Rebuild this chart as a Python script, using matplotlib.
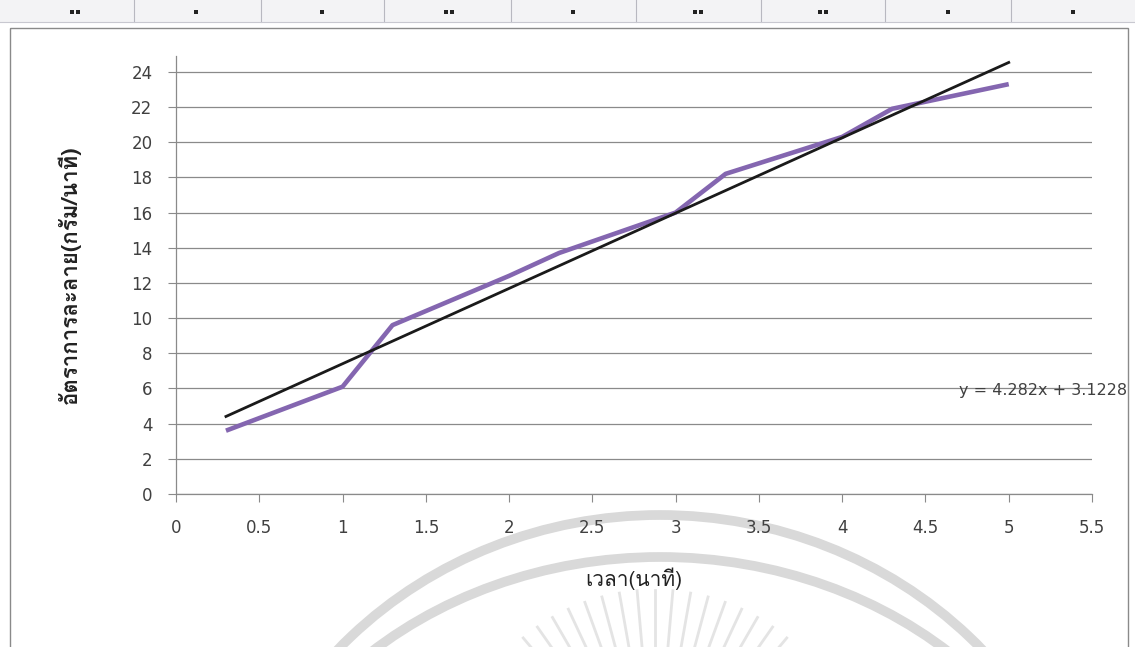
import numpy as np
import matplotlib.pyplot as plt
from matplotlib import font_manager
from matplotlib.ft2font import FT2Font
from matplotlib.patches import Rectangle, Arc


def find_thai_font():
    # pick any installed font that has Thai glyphs
    for f in font_manager.fontManager.ttflist:
        try:
            if 0x0E2D in FT2Font(f.fname).get_charmap():
                return f.name
        except Exception:
            pass
    return None


# Data
time_min = [0.3, 1.0, 1.3, 2.0, 2.3, 3.0, 3.3, 4.0, 4.3, 5.0]
rate = [3.6, 6.1, 9.6, 12.4, 13.7, 16.0, 18.2, 20.3, 21.9, 23.3]
trend_slope = 4.282
trend_intercept = 3.1228
x_ticks = [0, 0.5, 1, 1.5, 2, 2.5, 3, 3.5, 4, 4.5, 5, 5.5]
y_ticks = list(range(0, 26, 2))

thai = find_thai_font()
thai_family = [thai, 'DejaVu Sans'] if thai else ['DejaVu Sans']
num_family = ['DejaVu Sans']

W, H = 1135, 647
fig = plt.figure(figsize=(W / 100, H / 100), dpi=100)
fig.patch.set_facecolor('white')

# background layer in pixel coordinates: sheet strip, border, faint watermark
bg = fig.add_axes([0, 0, 1, 1], zorder=0)
bg.set_xlim(0, W)
bg.set_ylim(H, 0)
bg.axis('off')
bg.add_patch(Rectangle((0, 0), W, 22, facecolor='#f3f3f5', edgecolor='none'))
for px in [134, 261, 384, 511, 636, 761, 885, 1011]:
    bg.plot([px, px], [0, 22], color='#b8b8c0', lw=0.8)
bg.plot([0, W], [22, 22], color='#c8c8d0', lw=0.8)
for px in [72, 78, 196, 322, 446, 452, 573, 695, 701, 820, 826, 948, 1073]:
    bg.add_patch(Rectangle((px - 2, 10), 4, 4, facecolor='#222222', edgecolor='none'))
bg.add_patch(Rectangle((10, 28), 1118, 640, facecolor='none', edgecolor='#8a8a8a', lw=1.0))
# y axis is flipped here, so the upper half of the ellipse is theta 180..360
bg.add_patch(Arc((660, 930), 874, 830, theta1=180, theta2=360, color='#d9d9d9', lw=7))
bg.add_patch(Arc((660, 930), 866, 746, theta1=180, theta2=360, color='#d9d9d9', lw=7))
for ang in np.arange(35, 146, 5):
    a = np.deg2rad(ang)
    bg.plot([655 + 140 * np.cos(a), 655 + 205 * np.cos(a)],
            [795 - 140 * np.sin(a), 795 - 205 * np.sin(a)], color='#e4e4e4', lw=2.0)

ax = fig.add_axes([176 / W, 153 / H, 916 / W, 438 / H], zorder=1)
ax.patch.set_alpha(0)

ax.plot(time_min, rate, color='#8466b0', lw=3.3, solid_capstyle='butt', zorder=3)
xt = np.array([time_min[0], time_min[-1]])
ax.plot(xt, trend_slope * xt + trend_intercept, color='#1a1a1a', lw=2.0, zorder=4)

ax.set_xlim(0, 5.5)
ax.set_ylim(0, 24.9)
ax.set_xticks(x_ticks)
ax.set_xticklabels([f'{t:g}' for t in x_ticks], family=num_family, fontsize=12, color='#404040')
ax.set_yticks(y_ticks)
ax.set_yticklabels([str(t) for t in y_ticks], family=num_family, fontsize=12, color='#404040')
ax.tick_params(axis='both', direction='out', length=6, width=0.8, color='#8a8a8a')
ax.tick_params(axis='y', pad=11)
ax.tick_params(axis='x', pad=12)
ax.grid(axis='y', color='#8a8a8a', lw=0.9)
ax.set_axisbelow(True)
for side in ['top', 'right']:
    ax.spines[side].set_visible(False)
for side in ['left', 'bottom']:
    ax.spines[side].set_color('#8a8a8a')
    ax.spines[side].set_linewidth(0.9)

ax.set_xlabel('เวลา(นาที)', family=thai_family, fontsize=15, color='#222222', labelpad=22)
ax.set_ylabel('อัตราการละลาย(กรัม/นาที)', family=thai_family, fontsize=16, fontweight='bold',
              color='#222222', labelpad=36)

ax.text(5.71, 5.9, f'y = {trend_slope}x + {trend_intercept}', ha='right', va='center',
        family=num_family, fontsize=11.5, color='#404040', clip_on=False)

fig.savefig('out.png', dpi=100)
